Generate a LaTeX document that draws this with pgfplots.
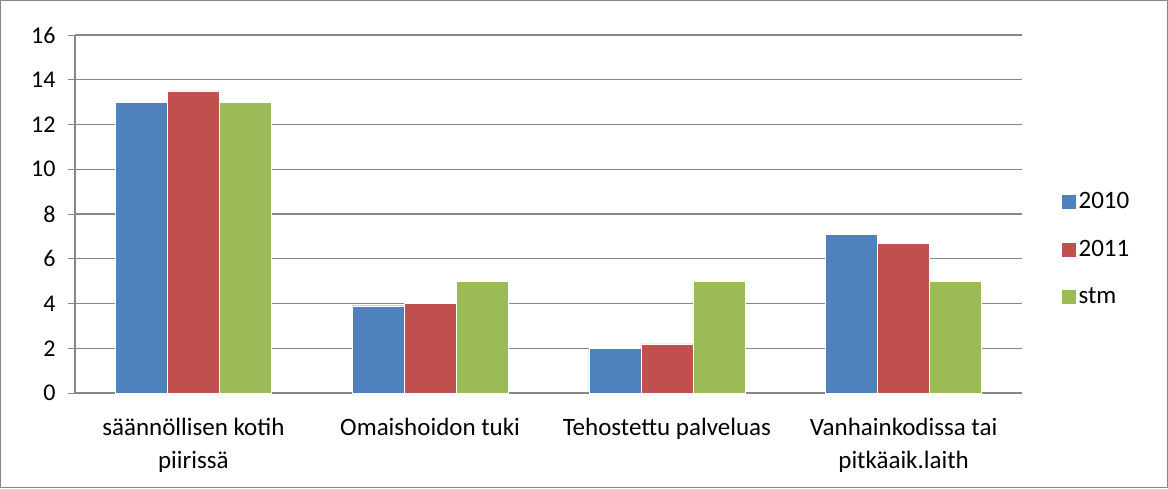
\documentclass[border=0pt]{standalone}
\usepackage{pgfplots}
\pgfplotsset{compat=1.18}
\usepackage{fontspec}
\setmainfont{Carlito}
\definecolor{cblue}{HTML}{4F81BD}
\definecolor{cred}{HTML}{C0504D}
\definecolor{cgreen}{HTML}{9BBB59}
\definecolor{cgrid}{HTML}{878787}
\begin{document}
\begin{tikzpicture}
\useasboundingbox (-75pt,-95pt) rectangle (1093pt,393pt);
\draw[cgrid,line width=1pt] (-74.5pt,-94.5pt) rectangle (1092.5pt,392.5pt);
\begin{axis}[
  at={(0pt,0pt)}, anchor=south west,
  scale only axis, width=947pt, height=358pt,
  ybar=0pt, bar width=52pt,
  xmin=-0.5, xmax=3.5, ymin=0, ymax=16,
  ytick={0,2,...,16},
  xtick={0,1,2,3},
  xticklabels={{säännöllisen kotih\\piirissä},{Omaishoidon tuki},{Tehostettu palveluas},{Vanhainkodissa tai\\pitkäaik.laith}},
  x tick label style={align=center, anchor=north, yshift=-15pt, font=\fontsize{25}{33}\selectfont},
  major x tick style={draw=none},
  extra x ticks={-0.5,0.5,1.5,2.5,3.5},
  extra x tick labels={},
  extra x tick style={major tick length=7pt, tick style={cgrid,line width=1pt}, grid=none},
  tick align=outside,
  major tick length=7pt,
  ytick style={cgrid,line width=1pt},
  ymajorgrids, grid style={cgrid,line width=1.3pt},
  axis x line*=bottom, axis y line*=left,
  axis line style={cgrid,line width=1.3pt,-},
  /pgf/number format/assume math mode=true,
  yticklabel style={xshift=-9pt, font=\fontsize{24}{28}\selectfont},
  legend style={at={(1.038,0.402)}, anchor=west, draw=none, fill=none,
    font=\fontsize{25}{27}\selectfont, row sep=26pt,
    legend cell align=left},
  legend image code/.code={\fill[#1] (0pt,-7.5pt) rectangle (15pt,7.5pt);},
]
\addplot[fill=cblue, draw=white, line width=0.4pt] coordinates {(0,13) (1,3.9) (2,2.0) (3,7.1)};
\addplot[fill=cred, draw=white, line width=0.4pt] coordinates {(0,13.5) (1,4.0) (2,2.2) (3,6.7)};
\addplot[fill=cgreen, draw=white, line width=0.4pt] coordinates {(0,13) (1,5) (2,5) (3,5)};
\legend{2010,2011,stm}
\end{axis}
\end{tikzpicture}
\end{document}
